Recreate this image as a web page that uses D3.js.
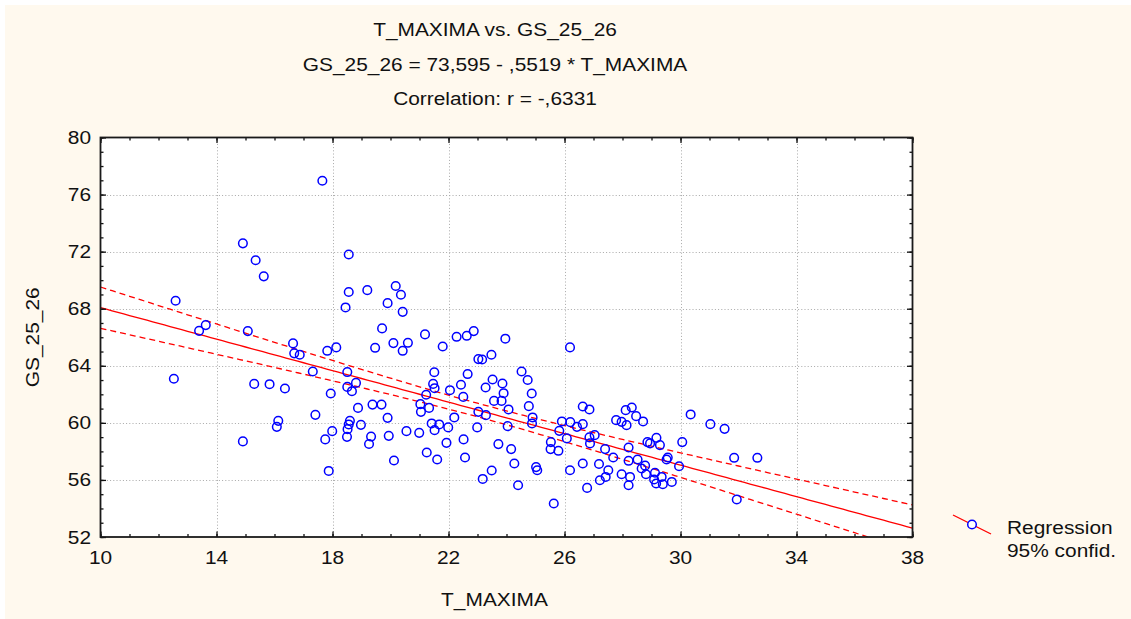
<!DOCTYPE html>
<html>
<head>
<meta charset="utf-8">
<script src="https://cdn.jsdelivr.net/npm/d3@7"></script>
<style>
  html, body { margin: 0; padding: 0; background: #ffffff; }
  svg { display: block; }
  text { font-family: "Liberation Sans", Arial, sans-serif; fill: #111; }
</style>
</head>
<body>
<svg id="chart" width="1131" height="619"></svg>
<script>
// Maximum temperature (°C) for each observation
const tMax = [
  17.65, 14.91, 15.35, 15.63, 18.56, 12.59, 18.56, 19.20, 18.45, 13.63,
  13.40, 15.08, 16.64, 16.68, 16.87, 17.82, 18.13, 17.32, 12.53, 18.51,
  18.81, 18.51, 18.67, 15.30, 15.83, 16.36, 17.94, 18.88, 17.41, 16.13,
  16.08, 18.60, 18.56, 18.52, 18.98, 18.50, 17.99, 17.75, 14.91, 17.87,
  19.33, 19.26, 19.38, 20.18, 20.36, 19.90, 20.42, 19.71, 21.19, 22.28,
  22.63, 22.87, 23.96, 20.10, 20.60, 20.42, 19.47, 21.80, 23.03, 21.51,
  22.66, 21.47, 21.52, 21.23, 22.05, 22.43, 22.51, 19.69, 21.03, 21.33,
  26.19, 23.16, 23.48, 24.52, 24.73, 23.28, 23.52, 23.86, 23.90, 23.57,
  23.83, 24.87, 24.77, 21.05, 19.90, 21.42, 21.68, 21.52, 21.99, 22.20,
  20.55, 20.99, 19.94, 22.99, 23.03, 23.29, 24.07, 24.90, 24.88, 24.04,
  21.93, 22.52, 21.25, 21.61, 22.57, 20.12, 23.72, 24.16, 24.27, 23.18,
  23.49, 24.40, 25.02, 25.06, 25.63, 25.53, 25.52, 25.79, 25.91, 26.20,
  26.63, 25.82, 26.08, 26.43, 26.63, 26.86, 26.19, 26.63, 26.86, 27.04,
  26.88, 26.78, 27.40, 27.19, 27.51, 27.42, 27.22, 27.68, 27.97, 28.26,
  28.21, 28.21, 28.21, 28.52, 28.11, 28.32, 28.47, 27.78, 27.97, 28.14,
  30.35, 31.03, 31.52, 30.06, 28.71, 29.17, 28.86, 28.95, 29.29, 29.56,
  29.52, 29.95, 31.85, 32.65, 31.94, 28.66, 28.81, 29.12, 29.09, 29.35,
  29.39, 29.70, 29.16, 28.78
];

// GS_25_26 measured for the same observations
const gs2526 = [
  76.97, 72.58, 71.40, 70.27, 71.80, 68.56, 69.17, 69.30, 68.09, 66.85,
  66.45, 66.43, 65.57, 64.87, 64.77, 65.05, 65.29, 63.60, 63.09, 63.56,
  62.80, 62.52, 62.22, 62.73, 62.71, 62.41, 62.06, 61.05, 60.56, 60.14,
  59.72, 60.14, 59.89, 59.56, 59.86, 59.02, 59.42, 58.84, 58.70, 56.63,
  59.04, 58.52, 61.28, 69.59, 68.98, 68.39, 67.78, 66.62, 66.20, 66.03,
  66.10, 66.43, 65.90, 65.59, 65.61, 65.05, 65.26, 65.35, 64.47, 63.55,
  63.42, 62.73, 62.43, 61.97, 62.29, 62.67, 61.82, 61.28, 61.31, 61.05,
  65.29, 64.44, 64.77, 63.60, 63.00, 62.48, 63.04, 62.76, 62.08, 61.54,
  61.54, 62.06, 61.17, 60.77, 60.35, 59.96, 59.89, 59.49, 59.68, 60.38,
  59.42, 59.30, 59.09, 59.68, 60.77, 60.54, 60.94, 60.38, 59.96, 59.77,
  58.60, 58.84, 57.92, 57.43, 57.57, 57.36, 58.51, 58.16, 57.15, 56.07,
  56.66, 55.63, 56.90, 56.68, 54.35, 58.65, 58.16, 58.04, 60.10, 60.05,
  59.91, 59.44, 58.91, 59.72, 61.15, 60.94, 56.68, 57.15, 58.98, 59.14,
  58.56, 55.44, 58.16, 57.12, 56.68, 56.21, 55.98, 57.57, 56.40, 56.21,
  55.63, 58.27, 57.34, 57.43, 60.89, 61.08, 60.47, 60.19, 60.07, 59.84,
  60.59, 59.91, 59.58, 58.65, 60.10, 58.95, 58.65, 58.56, 58.44, 57.57,
  57.43, 56.96, 57.55, 57.55, 54.63, 56.80, 56.40, 56.50, 56.03, 56.21,
  55.70, 55.86, 55.75, 57.00
];

// Axis tick values
const xTicks = [10, 14, 18, 22, 26, 30, 34, 38];
const yTicks = [52, 56, 60, 64, 68, 72, 76, 80];

// Fitted regression (as reported in the subtitle)
const intercept = 73.595;
const slope = -0.5519;
const rValue = "-,6331";

const titleLines = [
  "T_MAXIMA vs. GS_25_26",
  "GS_25_26 = 73,595 - ,5519 * T_MAXIMA",
  "Correlation: r = " + rValue
];
const legendLabels = ["Regression", "95% confid."];

const svg = d3.select("#chart");
const W = 1131, H = 619;
const plot = { left: 100.5, right: 912.5, top: 137.5, bottom: 537 };
const textStretch = 1.13;

// Cream background panel
svg.append("rect").attr("x", 5).attr("y", 5).attr("width", W - 5).attr("height", H - 5)
  .attr("fill", "#fff9ee");

const x = d3.scaleLinear().domain([10, 38]).range([plot.left, plot.right]);
const y = d3.scaleLinear().domain([52, 80]).range([plot.bottom, plot.top]);

// Plot area
svg.append("rect")
  .attr("x", plot.left).attr("y", plot.top)
  .attr("width", plot.right - plot.left).attr("height", plot.bottom - plot.top)
  .attr("fill", "#ffffff");

// Dotted grid at major ticks
const grid = svg.append("g").attr("stroke", "#a8a8a8").attr("stroke-width", 1)
  .attr("stroke-dasharray", "1,2.2");
grid.selectAll("line.gx").data(xTicks.slice(1, -1)).join("line")
  .attr("x1", d => Math.round(x(d)) + 0.5).attr("x2", d => Math.round(x(d)) + 0.5)
  .attr("y1", plot.top).attr("y2", plot.bottom);
grid.selectAll("line.gy").data(yTicks.slice(1, -1)).join("line")
  .attr("y1", d => Math.round(y(d)) + 0.5).attr("y2", d => Math.round(y(d)) + 0.5)
  .attr("x1", plot.left).attr("x2", plot.right);

// Clip for fit lines
svg.append("clipPath").attr("id", "plotClip").append("rect")
  .attr("x", plot.left).attr("y", plot.top)
  .attr("width", plot.right - plot.left).attr("height", plot.bottom - plot.top);

// Regression line and 95% confidence band
const n = tMax.length;
const meanX = d3.mean(tMax);
const sxx = d3.sum(tMax, v => (v - meanX) ** 2);
const sse = d3.sum(tMax, (v, i) => (gs2526[i] - (intercept + slope * v)) ** 2);
const se = Math.sqrt(sse / (n - 2));
const tCrit = 1.974;
const xs = d3.range(10, 38.001, 0.2);
const band = xs.map(v => {
  const fit = intercept + slope * v;
  const h = tCrit * se * Math.sqrt(1 / n + (v - meanX) ** 2 / sxx);
  return { v, fit, lo: fit - h, hi: fit + h };
});

const fitG = svg.append("g").attr("clip-path", "url(#plotClip)")
  .attr("fill", "none").attr("stroke", "#ff0000");
fitG.append("path").datum(band).attr("stroke-width", 1.3)
  .attr("d", d3.line().x(d => x(d.v)).y(d => y(d.fit)));
["hi", "lo"].forEach(k => {
  fitG.append("path").datum(band).attr("stroke-width", 1.3)
    .attr("stroke-dasharray", "6,4")
    .attr("d", d3.line().x(d => x(d.v)).y(d => y(d[k])));
});

// Scatter points
svg.append("g").selectAll("circle").data(tMax).join("circle")
  .attr("cx", d => x(d)).attr("cy", (d, i) => y(gs2526[i]))
  .attr("r", 4.3).attr("fill", "none").attr("stroke", "#0000ff").attr("stroke-width", 1.5);

// Axes with inward ticks on all four sides
const minorX = d3.range(10, 38.01, 1);
const minorY = d3.range(52, 80.01, 1);
function tickAxis(axisFn, scale, values, size) {
  return axisFn(scale).tickValues(values).tickSize(size).tickFormat("");
}
const axisColor = "#111";
const gBottom = svg.append("g").attr("transform", `translate(0,${plot.bottom})`);
gBottom.call(tickAxis(d3.axisBottom, x, minorX, -3));
gBottom.append("g").call(tickAxis(d3.axisBottom, x, xTicks, -5.5));
const gTop = svg.append("g").attr("transform", `translate(0,${plot.top})`);
gTop.call(tickAxis(d3.axisTop, x, minorX, -3));
gTop.append("g").call(tickAxis(d3.axisTop, x, xTicks, -5.5));
const gLeft = svg.append("g").attr("transform", `translate(${plot.left},0)`);
gLeft.call(tickAxis(d3.axisLeft, y, minorY, -3));
gLeft.append("g").call(tickAxis(d3.axisLeft, y, yTicks, -5.5));
const gRight = svg.append("g").attr("transform", `translate(${plot.right},0)`);
gRight.call(tickAxis(d3.axisRight, y, minorY, -3));
gRight.append("g").call(tickAxis(d3.axisRight, y, yTicks, -5.5));
svg.selectAll(".domain").remove();
svg.selectAll(".tick line").attr("stroke", axisColor).attr("stroke-width", 1.3);

// Frame
svg.append("rect")
  .attr("x", plot.left).attr("y", plot.top)
  .attr("width", plot.right - plot.left).attr("height", plot.bottom - plot.top)
  .attr("fill", "none").attr("stroke", "#1a1a1a").attr("stroke-width", 1.8);

// Text helper (glyphs slightly widened)
function label(g, tx, ty, str, anchor, size, rotate) {
  const t = g.append("g")
    .attr("transform", `translate(${tx},${ty})` + (rotate ? ` rotate(${rotate})` : "") + ` scale(${textStretch},1)`);
  t.append("text").attr("text-anchor", anchor).attr("font-size", size).text(str);
  return t;
}

// Tick labels
const labels = svg.append("g");
xTicks.forEach(d => label(labels, x(d), 564, d, "middle", 18.5));
yTicks.forEach(d => label(labels, 91, y(d) + 6.5, d, "end", 18.5));

// Axis titles
label(svg, (plot.left + plot.right) / 2 - 12, 606, "T_MAXIMA", "middle", 18.5);
label(svg, 39, (plot.top + plot.bottom) / 2, "GS_25_26", "middle", 18.5, -90);

// Titles
const titleY = [36, 71, 105];
titleLines.forEach((s, i) => label(svg, 495, titleY[i], s, "middle", 18.5));

// Legend
const lg = svg.append("g");
lg.append("line").attr("x1", 953).attr("y1", 515).attr("x2", 991).attr("y2", 534)
  .attr("stroke", "#ff0000").attr("stroke-width", 1.3);
lg.append("circle").attr("cx", 972).attr("cy", 524.5).attr("r", 4.3)
  .attr("fill", "#ffffff").attr("stroke", "#0000ff").attr("stroke-width", 1.5);
label(lg, 1007, 534, legendLabels[0], "start", 18.5);
label(lg, 1007, 557, legendLabels[1], "start", 18.5);
</script>
</body>
</html>
